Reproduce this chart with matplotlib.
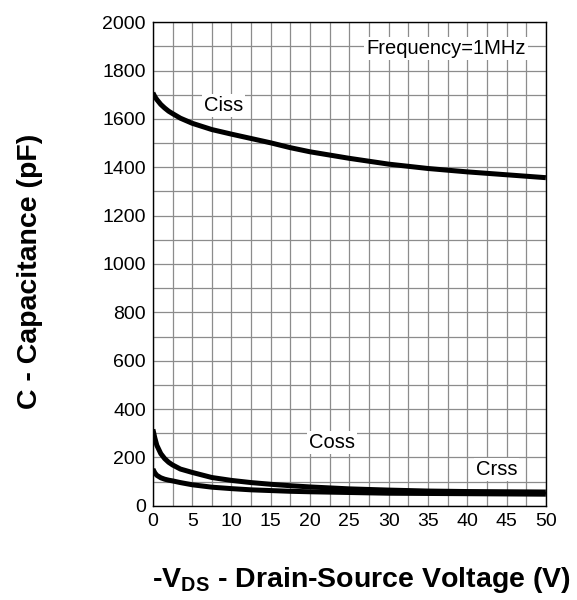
import matplotlib
matplotlib.use("Agg")
import matplotlib.pyplot as plt
import numpy as np

plt.rcParams['font.family'] = ['Liberation Sans', 'DejaVu Sans']
plt.rcParams['mathtext.fontset'] = 'custom'
plt.rcParams['mathtext.rm'] = 'Liberation Sans'
plt.rcParams['mathtext.bf'] = 'Liberation Sans:bold'

vds = [0, 0.25, 0.5, 1, 1.5, 2, 2.5, 3.5, 5, 7.5, 10, 12.5, 15, 17.5, 20, 25, 30, 35, 40, 45, 50]
ciss = [1708, 1692, 1680, 1660, 1645, 1632, 1622, 1603, 1582, 1556, 1537, 1519, 1501, 1481, 1464, 1437, 1413, 1395, 1381, 1369, 1357]
coss = [316, 280, 250, 216, 195, 180, 169, 152, 138, 117, 105, 96, 89, 83, 78, 70, 65, 61, 59, 58, 57]
crss = [152, 136, 126, 116, 110, 106, 103, 96, 87, 77, 71, 66, 63, 60, 58, 55, 52, 51, 50, 49, 48]

fig = plt.figure(figsize=(5.77, 6.0), dpi=100)
ax = fig.add_axes([0.265, 0.157, 0.681, 0.806])

for ys in (ciss, coss, crss):
    ax.plot(vds, ys, color='black', lw=3.6, solid_capstyle='butt', solid_joinstyle='round')

ax.set_xlim(0, 50)
ax.set_ylim(0, 2000)
ax.set_xticks(np.arange(0, 51, 5))
ax.set_yticks(np.arange(0, 2001, 200))
ax.set_xticks(np.arange(0, 51, 2.5), minor=True)
ax.set_yticks(np.arange(0, 2001, 100), minor=True)
ax.grid(True, which='both', color='#8c8c8c', lw=0.9)
ax.set_axisbelow(True)
ax.tick_params(which='both', length=0, labelsize=14, pad=5)
for s in ax.spines.values():
    s.set_linewidth(1.0)
    s.set_color('black')

bbox = dict(facecolor='white', edgecolor='none', pad=1.5)
fs = 14.5
ax.text(9.0, 1655, 'Ciss', fontsize=fs, ha='center', va='center', bbox=bbox)
ax.text(22.8, 262, 'Coss', fontsize=fs, ha='center', va='center', bbox=bbox)
ax.text(43.7, 150, 'Crss', fontsize=fs, ha='center', va='center', bbox=bbox)
ax.text(37.3, 1893, 'Frequency=1MHz', fontsize=fs, ha='center', va='center', bbox=bbox)

fig.text(0.052, 0.547, 'C - Capacitance (pF)', rotation=90, fontsize=20.5, fontweight='bold',
         ha='center', va='center')
fig.text(0.627, 0.033, r'-V$_{\mathbf{DS}}$ - Drain-Source Voltage (V)', fontsize=20.5, fontweight='bold',
         ha='center', va='center')

fig.savefig('out.png', dpi=100)
